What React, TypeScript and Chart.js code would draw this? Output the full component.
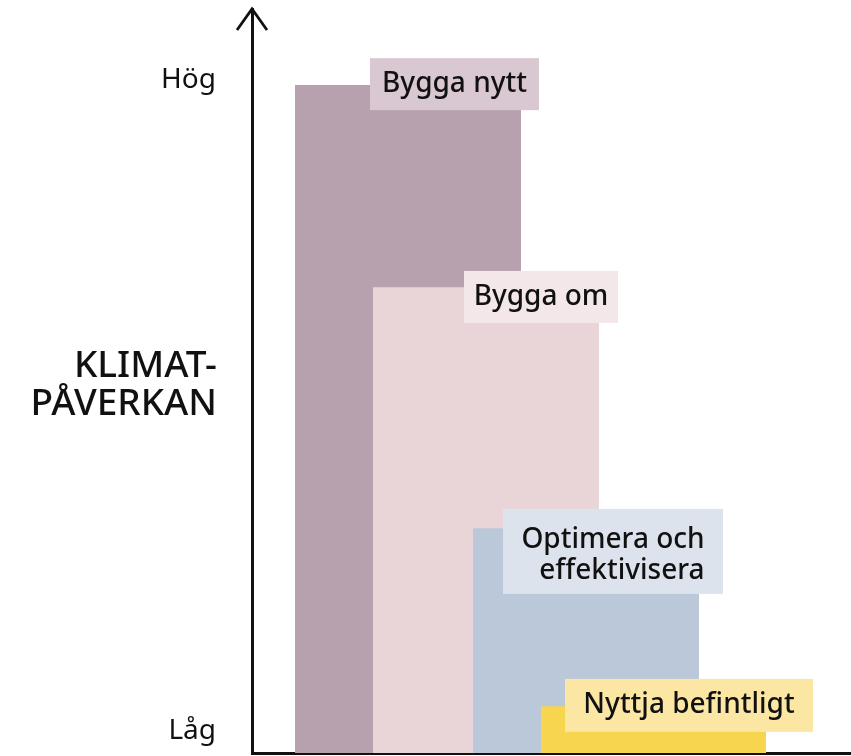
import React, { useEffect, useRef } from "react";
import { Chart, registerables } from "chart.js";

Chart.register(...registerables);

// ---- data ----
const categories = ["Bygga nytt", "Bygga om", "Optimera och effektivisera", "Nyttja befintligt"];
const impact = [89.8, 62.6, 30.2, 6.3]; // relativ klimatpåverkan (0–100)
const barStart = [43, 121, 221, 289]; // nominal x-axis units
const barEnd = [269, 347, 447, 514];
const yTickValues = [3, 90.5];
const yTickLabels = ["Låg", "Hög"];
const labelLines = [["Bygga nytt"], ["Bygga om"], ["Optimera och", "effektivisera"], ["Nyttja befintligt"]];

// ---- styling / annotation placement ----
const barColors = ["#b8a1af", "#e9d5d8", "#bbc8d9", "#f8d54e"];
const boxColors = ["#d9c7d1", "#f4e7ea", "#dde3ed", "#fbe7a3"];
const labelBoxes = [
  { x0: 118, x1: 287, y: 89.9, h: 52 },
  { x0: 212, x1: 366, y: 61.3, h: 52 },
  { x0: 251, x1: 471, y: 27.1, h: 85 },
  { x0: 313, x1: 561, y: 6.4, h: 53 },
];
const FONT = "'Noto Sans', sans-serif";
const INK = "#111111";

const overlayPlugin = {
  id: "overlay",
  afterDatasetsDraw(chart: any) {
    const { ctx, scales } = chart;
    const xs = scales.x;
    const ys = scales.y;
    ctx.save();
    labelBoxes.forEach((b, i) => {
      const left = xs.getPixelForValue(b.x0);
      const right = xs.getPixelForValue(b.x1);
      const cy = ys.getPixelForValue(b.y);
      ctx.fillStyle = boxColors[i];
      ctx.fillRect(left, cy - b.h / 2, right - left, b.h);
      ctx.fillStyle = INK;
      ctx.font = `500 28px ${FONT}`;
      ctx.textBaseline = "alphabetic";
      const lines = labelLines[i];
      const lineH = 31;
      const widths = lines.map((l) => ctx.measureText(l).width);
      const maxW = Math.max(...widths);
      const cx = (left + right) / 2;
      const n = lines.length;
      lines.forEach((l, j) => {
        const base = cy + 8 + (j - (n - 1) / 2) * lineH + (n > 1 ? 4 : 0);
        if (n > 1) {
          ctx.textAlign = "right";
          ctx.fillText(l, cx + maxW / 2, base);
        } else {
          ctx.textAlign = "center";
          ctx.fillText(l, cx, base);
        }
      });
    });
    ctx.restore();
  },
  afterDraw(chart: any) {
    const { ctx, chartArea } = chart;
    ctx.save();
    // arrow head on y axis
    const ax = chartArea.left;
    const top = chartArea.top;
    ctx.strokeStyle = "#111";
    ctx.lineWidth = 2.8;
    ctx.lineJoin = "miter";
    ctx.beginPath();
    ctx.moveTo(ax - 15, top + 21);
    ctx.lineTo(ax, top);
    ctx.lineTo(ax + 15, top + 21);
    ctx.stroke();
    // axis title
    ctx.fillStyle = INK;
    ctx.font = `500 37px ${FONT}`;
    ctx.textAlign = "right";
    ctx.textBaseline = "alphabetic";
    ctx.fillText("KLIMAT-", ax - 35, 377);
    ctx.fillText("PÅVERKAN", ax - 35, 415);
    ctx.restore();
  },
};

export default function App() {
  const ref = useRef<HTMLCanvasElement | null>(null);
  useEffect(() => {
    if (!ref.current) return;
    const n = categories.length;
    const chart = new Chart(ref.current, {
      type: "line",
      data: {
        datasets: categories.map((c, i) => ({
          label: c,
          data: [
            { x: barStart[i], y: 0 },
            { x: barStart[i], y: impact[i] },
            { x: barEnd[i], y: impact[i] },
            { x: barEnd[i], y: 0 },
          ],
          fill: "origin",
          backgroundColor: barColors[i],
          borderColor: barColors[i],
          borderWidth: 0,
          pointRadius: 0,
          tension: 0,
          order: n - 1 - i,
        })),
      },
      options: {
        animation: false,
        responsive: false,
        events: [],
        layout: { padding: { top: 9, left: 0, right: 0, bottom: 0 } },
        plugins: { legend: { display: false }, tooltip: { enabled: false } },
        scales: {
          x: {
            type: "linear",
            min: 0,
            max: 599,
            z: 1,
            ticks: { display: false },
            grid: { display: false, drawTicks: false },
            border: { display: true, color: "#111", width: 3 },
            afterFit: (s: any) => {
              s.height = 3;
              s.paddingLeft = 0;
              s.paddingRight = 0;
              s.paddingTop = 0;
              s.paddingBottom = 0;
            },
          },
          y: {
            type: "linear",
            min: 0,
            max: 100,
            z: 1,
            afterBuildTicks: (s: any) => {
              s.ticks = yTickValues.map((v) => ({ value: v }));
            },
            ticks: {
              callback: (_v: any, idx: number) => yTickLabels[idx],
              font: { family: FONT, size: 28 },
              color: INK,
              padding: 36,
            },
            grid: { display: false, drawTicks: false },
            border: { display: true, color: "#111", width: 3 },
            afterFit: (s: any) => {
              s.width = 252;
              s.paddingTop = 0;
              s.paddingBottom = 0;
              s.paddingLeft = 0;
              s.paddingRight = 0;
            },
          },
        },
      },
      plugins: [overlayPlugin],
    } as any);
    return () => chart.destroy();
  }, []);
  return (
    <div style={{ position: "fixed", left: 0, top: 0, width: 851, height: 756, background: "#fff" }}>
      <canvas ref={ref} width={851} height={756} />
    </div>
  );
}
